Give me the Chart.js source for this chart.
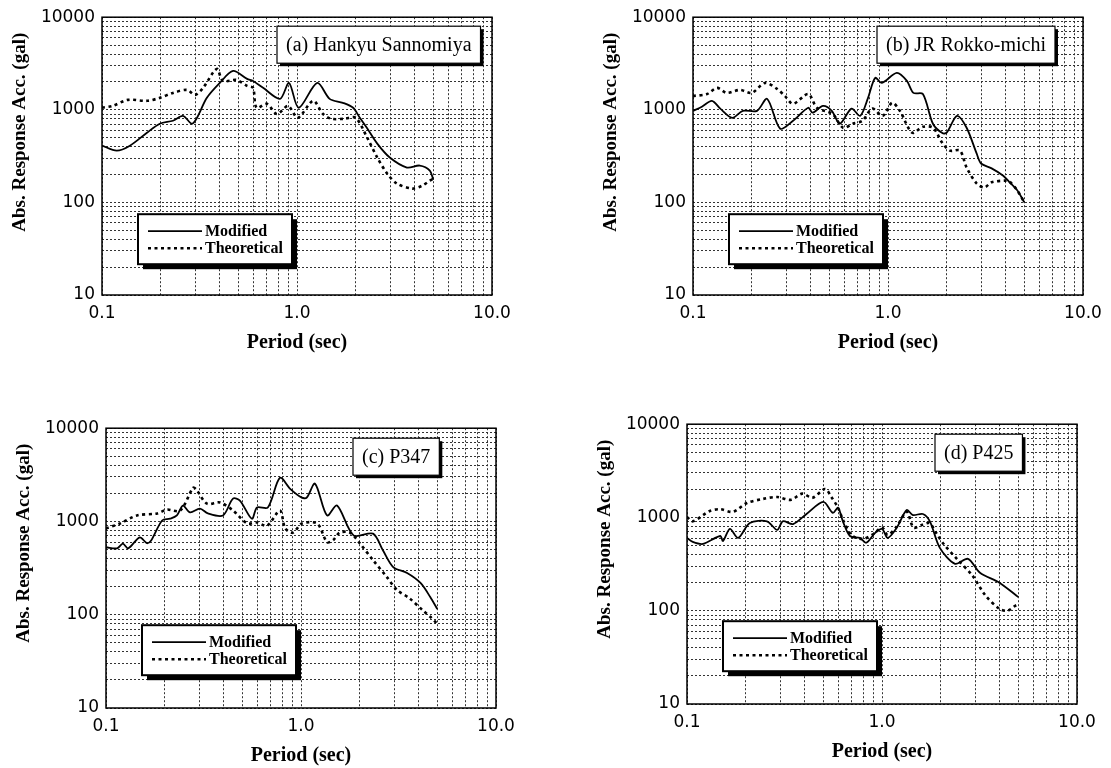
<!DOCTYPE html>
<html>
<head>
<meta charset="utf-8">
<script src="https://cdn.jsdelivr.net/npm/chart.js@4.4.1/dist/chart.umd.min.js"></script>
<style>
  html, body { margin: 0; padding: 0; background: #fff; overflow: hidden; }
  body { width: 1111px; height: 768px; position: relative; }
  canvas { position: absolute; }
</style>
</head>
<body>
<canvas id="chartA"></canvas>
<canvas id="chartB"></canvas>
<canvas id="chartC"></canvas>
<canvas id="chartD"></canvas>
<script>
// axes
const xDecades = [0.1, 1, 10];
const xTickLabels = ['0.1', '1.0', '10.0'];
const yDecades = [10, 100, 1000, 10000];
const yTickLabels = ['10', '100', '1000', '10000'];
const xTitle = 'Period (sec)';
const yTitle = 'Abs. Response Acc. (gal)';
const seriesNames = ['Modified', 'Theoretical'];
const panelTitles = ['(a) Hankyu Sannomiya', '(b) JR Rokko-michi', '(c) P347', '(d) P425'];

// (a) Hankyu Sannomiya
const periodsModA = [0.1, 0.119, 0.139, 0.17, 0.198, 0.231, 0.26, 0.289, 0.307, 0.345, 0.402, 0.47, 0.555, 0.595, 0.67, 0.818, 0.91, 1.02, 1.27, 1.47, 1.72, 1.94, 2.1, 2.28, 2.58, 2.99, 3.66, 4.26, 4.8, 5.0];
const accModA = [410, 362, 410, 566, 707, 762, 861, 707, 820, 1346, 1950, 2626, 2155, 2050, 1726, 1313, 1950, 1052, 1950, 1313, 1190, 1052, 820, 640, 431, 305, 238, 250, 221, 175];
const periodsTheoA = [0.1, 0.113, 0.136, 0.17, 0.198, 0.231, 0.273, 0.3, 0.33, 0.388, 0.417, 0.49, 0.555, 0.595, 0.62, 0.7, 0.79, 0.9, 1.01, 1.21, 1.36, 1.5, 1.75, 2.0, 2.29, 2.58, 2.9, 3.25, 3.9, 4.4, 4.8, 5.0];
const accTheoA = [1052, 1100, 1281, 1250, 1346, 1523, 1640, 1450, 1726, 2760, 2050, 2100, 1814, 1726, 1052, 1160, 900, 1100, 820, 1250, 900, 800, 800, 820, 500, 305, 205, 160, 141, 152, 172, 180];

// (b) JR Rokko-michi
const periodsModB = [0.1, 0.111, 0.125, 0.138, 0.159, 0.18, 0.213, 0.24, 0.28, 0.326, 0.39, 0.41, 0.464, 0.515, 0.566, 0.65, 0.72, 0.79, 0.86, 0.93, 1.11, 1.25, 1.35, 1.51, 1.7, 1.9, 2.0, 2.26, 2.53, 2.85, 3.0, 3.4, 3.9, 4.2, 4.6, 5.0];
const accModB = [975, 1080, 1250, 1030, 820, 975, 975, 1313, 625, 762, 1052, 930, 1100, 975, 707, 1030, 860, 1346, 2210, 1950, 2500, 2050, 1523, 1480, 707, 560, 566, 860, 640, 336, 263, 233, 194, 165, 135, 100];
const periodsTheoB = [0.1, 0.118, 0.133, 0.149, 0.174, 0.2, 0.234, 0.27, 0.296, 0.326, 0.39, 0.432, 0.52, 0.588, 0.66, 0.74, 0.83, 0.94, 1.05, 1.15, 1.33, 1.51, 1.7, 1.91, 2.08, 2.34, 2.53, 2.85, 3.12, 3.4, 4.0, 4.2, 4.6, 5.0];
const accTheoB = [1410, 1480, 1726, 1523, 1640, 1523, 1950, 1680, 1410, 1160, 1480, 1052, 900, 640, 707, 762, 1030, 860, 1190, 975, 566, 655, 640, 431, 362, 362, 238, 160, 145, 165, 172, 168, 135, 100];

// (c) P347
const periodsModC = [0.1, 0.114, 0.122, 0.13, 0.149, 0.162, 0.17, 0.194, 0.213, 0.231, 0.248, 0.27, 0.303, 0.333, 0.398, 0.448, 0.486, 0.56, 0.595, 0.676, 0.78, 0.88, 1.01, 1.07, 1.18, 1.36, 1.53, 1.86, 2.34, 2.63, 2.97, 3.5, 4.1, 4.6, 5.0];
const accModC = [529, 515, 580, 515, 676, 585, 620, 1025, 1070, 1160, 1480, 1250, 1375, 1220, 1160, 1757, 1675, 1070, 1410, 1410, 2938, 2240, 1800, 1800, 2540, 1160, 1480, 710, 740, 491, 324, 280, 219, 155, 115];
const periodsTheoC = [0.1, 0.118, 0.144, 0.183, 0.205, 0.24, 0.28, 0.29, 0.33, 0.384, 0.448, 0.53, 0.595, 0.67, 0.78, 0.83, 0.91, 1.01, 1.21, 1.36, 1.46, 1.58, 1.78, 2.0, 2.34, 2.75, 3.1, 3.6, 4.2, 4.6, 5.0];
const accTheoC = [843, 950, 1160, 1220, 1340, 1310, 2300, 2200, 1550, 1600, 1310, 950, 975, 900, 1310, 843, 760, 950, 950, 600, 630, 760, 760, 585, 385, 255, 185, 150, 112, 95, 80];

// (d) P425
const periodsModD = [0.1, 0.107, 0.121, 0.148, 0.153, 0.166, 0.183, 0.21, 0.257, 0.29, 0.31, 0.35, 0.41, 0.5, 0.56, 0.595, 0.63, 0.685, 0.77, 0.83, 0.92, 1.0, 1.07, 1.19, 1.34, 1.44, 1.62, 1.76, 1.98, 2.37, 2.76, 3.18, 4.0, 4.9, 5.0];
const accModD = [603, 547, 520, 633, 560, 754, 603, 873, 910, 735, 910, 850, 1090, 1466, 1120, 1270, 910, 633, 603, 536, 680, 754, 603, 775, 1200, 1060, 1090, 910, 472, 318, 360, 255, 200, 145, 140];
const periodsTheoD = [0.1, 0.107, 0.131, 0.148, 0.172, 0.203, 0.245, 0.29, 0.34, 0.39, 0.44, 0.51, 0.55, 0.595, 0.63, 0.7, 0.8, 0.9, 1.0, 1.07, 1.19, 1.34, 1.45, 1.6, 1.75, 1.91, 2.07, 2.42, 2.9, 3.4, 4.0, 4.4, 4.9, 5.0];
const accTheoD = [1012, 910, 1175, 1225, 1150, 1430, 1580, 1660, 1545, 1800, 1625, 2018, 1660, 1270, 950, 640, 590, 660, 780, 650, 800, 1150, 780, 830, 870, 665, 520, 360, 240, 145, 105, 100, 115, 110];

// layout of the four panels (plot area in page pixels)
const panels = [
  { id: 'chartA', left: 102, top: 16, height: 279, titleX: 175, titleY: 9, title: panelTitles[0], mod: [periodsModA, accModA], theo: [periodsTheoA, accTheoA] },
  { id: 'chartB', left: 693, top: 16, height: 279, titleX: 184, titleY: 9, title: panelTitles[1], mod: [periodsModB, accModB], theo: [periodsTheoB, accTheoB] },
  { id: 'chartC', left: 106, top: 427, height: 281, titleX: 247, titleY: 10, title: panelTitles[2], mod: [periodsModC, accModC], theo: [periodsTheoC, accTheoC] },
  { id: 'chartD', left: 687, top: 423, height: 281, titleX: 248, titleY: 10, title: panelTitles[3], mod: [periodsModD, accModD], theo: [periodsTheoD, accTheoD] }
];
const PLOT_W = 390, PAD_L = 100, PAD_T = 16, PAD_R = 30, PAD_B = 70;

// log grid: 1..9 x each decade
function logGrid(decades) {
  const out = [];
  for (let i = 0; i < decades.length - 1; i++) {
    for (let k = 1; k < 10; k++) out.push(+(decades[i] * k).toPrecision(6));
  }
  out.push(decades[decades.length - 1]);
  return out;
}
function decadeLabel(v, decades, labels) {
  const i = decades.findIndex(d => Math.abs(d - v) / d < 1e-6);
  return i >= 0 ? labels[i] : '';
}
const toPoints = (xs, ys) => xs.map((x, i) => ({ x: x, y: ys[i] }));

const decorPlugin = {
  id: 'decor',
  afterDraw(chart, args, p) {
    const { ctx, chartArea: a } = chart;
    ctx.save();
    ctx.setLineDash([]);
    // frame
    ctx.strokeStyle = '#000';
    ctx.lineWidth = 1.5;
    ctx.strokeRect(a.left, a.top, a.right - a.left, a.bottom - a.top);

    // axis titles
    ctx.fillStyle = '#000';
    ctx.textAlign = 'center';
    ctx.textBaseline = 'middle';
    ctx.font = 'bold 20px "Liberation Serif"';
    ctx.fillText(xTitle, (a.left + a.right) / 2, a.bottom + 48);
    ctx.save();
    ctx.translate(a.left - 82, a.top + 115);
    ctx.rotate(-Math.PI / 2);
    ctx.font = 'bold 19px "Liberation Serif"';
    ctx.fillText(yTitle, 0, 0);
    ctx.restore();

    // panel title box
    ctx.font = '20px "Liberation Serif"';
    const tw = ctx.measureText(p.title).width + 18;
    const th = 37;
    const tx = a.left + p.titleX, ty = a.top + p.titleY;
    ctx.fillStyle = '#000';
    ctx.fillRect(tx + 3, ty + 3, tw, th);
    ctx.fillStyle = '#fff';
    ctx.fillRect(tx, ty, tw, th);
    ctx.lineWidth = 1.2;
    ctx.strokeRect(tx, ty, tw, th);
    ctx.fillStyle = '#000';
    ctx.textAlign = 'left';
    ctx.fillText(p.title, tx + 9, ty + th / 2 + 1);

    // legend box
    const lx = a.left + 36, ly = a.top + 197, lw = 154, lh = 50;
    ctx.fillStyle = '#000';
    ctx.fillRect(lx + 5, ly + 5, lw, lh);
    ctx.fillStyle = '#fff';
    ctx.fillRect(lx, ly, lw, lh);
    ctx.lineWidth = 2;
    ctx.strokeRect(lx, ly, lw, lh);
    ctx.font = 'bold 16px "Liberation Serif"';
    chart.data.datasets.forEach((ds, i) => {
      const yy = ly + 17 + i * 17;
      ctx.save();
      ctx.strokeStyle = ds.borderColor;
      ctx.lineWidth = ds.borderWidth;
      ctx.setLineDash(ds.borderDash || []);
      ctx.beginPath();
      ctx.moveTo(lx + 10, yy);
      ctx.lineTo(lx + 64, yy);
      ctx.stroke();
      ctx.restore();
      ctx.fillStyle = '#000';
      ctx.fillText(ds.label, lx + 67, yy + 1);
    });
    ctx.restore();
  }
};

const xGrid = logGrid(xDecades);
const yGrid = logGrid(yDecades);

panels.forEach(pn => {
  const canvas = document.getElementById(pn.id);
  const w = PAD_L + PLOT_W + PAD_R;
  const h = PAD_T + pn.height + PAD_B;
  canvas.width = w;
  canvas.height = h;
  canvas.style.left = (pn.left - PAD_L) + 'px';
  canvas.style.top = (pn.top - PAD_T) + 'px';

  new Chart(canvas, {
    type: 'line',
    data: {
      datasets: [
        {
          label: seriesNames[0],
          data: toPoints(pn.mod[0], pn.mod[1]),
          borderColor: '#000',
          borderWidth: 1.8,
          pointRadius: 0,
          tension: 0.3,
          fill: false
        },
        {
          label: seriesNames[1],
          data: toPoints(pn.theo[0], pn.theo[1]),
          borderColor: '#000',
          borderWidth: 2.6,
          borderDash: [3, 3.5],
          pointRadius: 0,
          tension: 0.3,
          fill: false
        }
      ]
    },
    options: {
      responsive: false,
      animation: false,
      layout: { padding: { left: 0, top: PAD_T, right: PAD_R, bottom: 0 } },
      plugins: {
        legend: { display: false },
        tooltip: { enabled: false },
        decor: { title: pn.title, titleX: pn.titleX, titleY: pn.titleY }
      },
      scales: {
        x: {
          type: 'logarithmic',
          min: 0.1,
          max: 10,
          afterBuildTicks: s => { s.ticks = xGrid.map(v => ({ value: v })); },
          afterFit: s => { s.height = PAD_B; },
          grid: { color: '#333', lineWidth: 1, drawTicks: false },
          border: { display: false, dash: [2, 2] },
          ticks: {
            autoSkip: false,
            maxRotation: 0,
            padding: 8,
            color: '#000',
            font: { family: 'DejaVu Sans', size: 17 },
            callback: v => decadeLabel(v, xDecades, xTickLabels)
          }
        },
        y: {
          type: 'logarithmic',
          min: 10,
          max: 10000,
          afterBuildTicks: s => { s.ticks = yGrid.map(v => ({ value: v })); },
          afterFit: s => { s.width = PAD_L; },
          grid: { color: '#333', lineWidth: 1, drawTicks: false },
          border: { display: false, dash: [2, 2] },
          ticks: {
            autoSkip: false,
            padding: 7,
            color: '#000',
            font: { family: 'DejaVu Sans', size: 17 },
            callback: v => decadeLabel(v, yDecades, yTickLabels)
          }
        }
      }
    },
    plugins: [decorPlugin]
  });
});
</script>
</body>
</html>
